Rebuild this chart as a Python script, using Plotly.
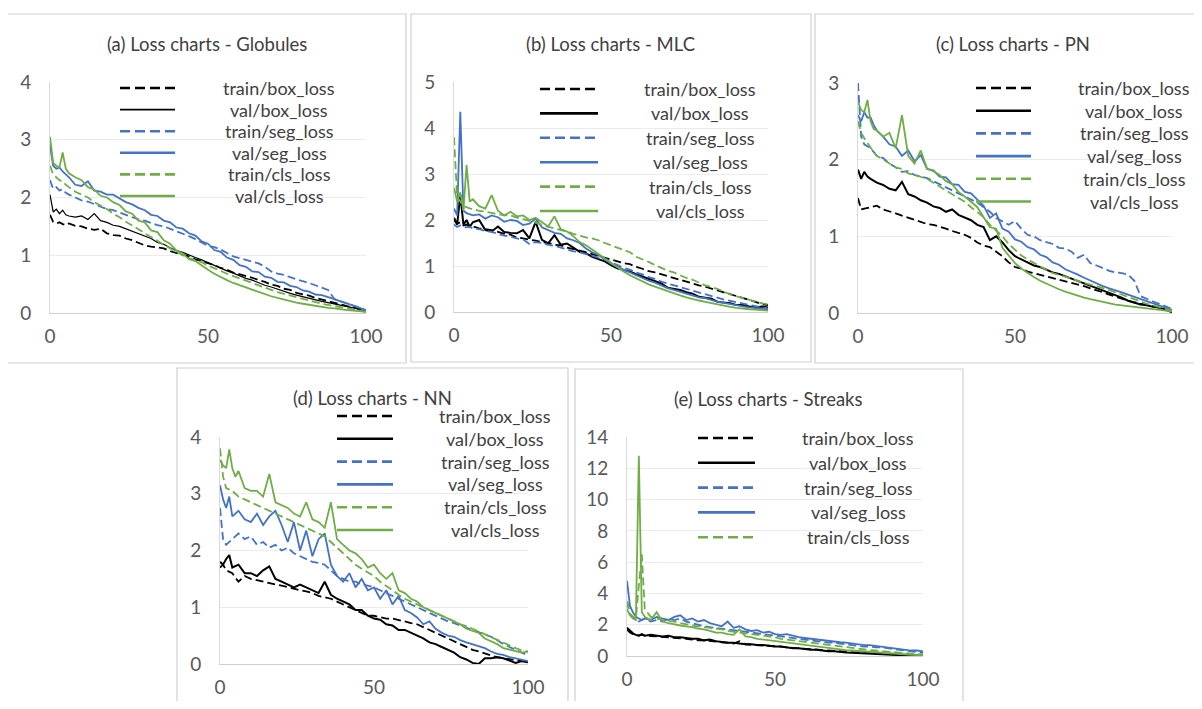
import plotly.graph_objects as go

# the page body keeps its default 8px margin, so the figure is drawn 8px in from the window
W, H = 1186, 693
OFFSET = 8
FONT = "Lato"

# epochs shared by every panel
EPOCHS = [0, 1, 2, 3, 4, 5, 6,
          8, 10, 12, 14, 16, 18, 20, 22, 24, 26,
          28, 30, 32, 34, 36, 38, 40, 42, 44, 46,
          48, 50, 52, 54, 56, 58, 60, 62, 64, 66,
          68, 70, 72, 74, 76, 78, 80, 82, 84, 86,
          88, 90, 92, 94, 96, 98, 100]

SERIES_NAMES = ["train/box_loss", "val/box_loss", "train/seg_loss",
                "val/seg_loss", "train/cls_loss", "val/cls_loss"]

TITLES = ["(a) Loss charts - Globules", "(b) Loss charts - MLC", "(c) Loss charts - PN",
          "(d) Loss charts - NN", "(e) Loss charts - Streaks"]

X_TICKS = [0, 50, 100]
Y_MAX = [4, 5, 3, 4, 14]
Y_STEP = [1, 1, 1, 1, 2]

# (a) Globules
GLOB_TRAIN_BOX = [1.70, 1.58, 1.55, 1.57, 1.54, 1.52, 1.55,
                  1.51, 1.50, 1.46, 1.44, 1.46, 1.38, 1.35, 1.34, 1.29, 1.26,
                  1.22, 1.17, 1.15, 1.13, 1.12, 1.07, 1.04, 1.00, 0.98, 0.93,
                  0.90, 0.86, 0.83, 0.78, 0.75, 0.70, 0.67, 0.65, 0.61, 0.57,
                  0.54, 0.49, 0.47, 0.42, 0.40, 0.35, 0.33, 0.30, 0.26, 0.23,
                  0.20, 0.18, 0.15, 0.12, 0.10, 0.06, 0.03]
GLOB_VAL_BOX = [2.05, 1.75, 1.80, 1.72, 1.78, 1.70, 1.68,
                1.66, 1.68, 1.62, 1.72, 1.60, 1.57, 1.52, 1.50, 1.46, 1.42,
                1.38, 1.33, 1.29, 1.22, 1.19, 1.13, 1.08, 1.05, 1.00, 0.96,
                0.92, 0.87, 0.82, 0.78, 0.73, 0.69, 0.64, 0.60, 0.57, 0.52,
                0.48, 0.45, 0.41, 0.38, 0.34, 0.31, 0.28, 0.26, 0.23, 0.20,
                0.18, 0.16, 0.14, 0.11, 0.09, 0.06, 0.03]
GLOB_TRAIN_SEG = [2.30, 2.15, 2.18, 2.12, 2.14, 2.08, 2.05,
                  2.00, 1.95, 1.93, 1.88, 1.84, 1.80, 1.78, 1.74, 1.70, 1.66,
                  1.62, 1.60, 1.56, 1.52, 1.50, 1.46, 1.42, 1.38, 1.33, 1.28,
                  1.22, 1.16, 1.14, 1.10, 1.04, 0.98, 0.95, 0.92, 0.88, 0.86,
                  0.80, 0.72, 0.68, 0.66, 0.62, 0.58, 0.55, 0.52, 0.48, 0.45,
                  0.40, 0.24, 0.20, 0.16, 0.12, 0.08, 0.05]
GLOB_VAL_SEG = [2.90, 2.55, 2.50, 2.52, 2.45, 2.40, 2.35,
                2.22, 2.20, 2.28, 2.12, 2.10, 2.05, 2.05, 1.98, 1.92, 1.88,
                1.82, 1.78, 1.70, 1.68, 1.60, 1.57, 1.48, 1.46, 1.38, 1.34,
                1.24, 1.20, 1.09, 1.06, 0.96, 0.92, 0.83, 0.80, 0.72, 0.71,
                0.63, 0.61, 0.54, 0.53, 0.47, 0.45, 0.39, 0.37, 0.32, 0.31,
                0.28, 0.24, 0.20, 0.17, 0.13, 0.09, 0.05]
GLOB_TRAIN_CLS = [2.55, 2.40, 2.35, 2.30, 2.28, 2.22, 2.18,
                  2.10, 2.05, 2.00, 1.92, 1.86, 1.80, 1.72, 1.66, 1.58, 1.52,
                  1.45, 1.38, 1.32, 1.25, 1.18, 1.12, 1.05, 1.00, 0.95, 0.92,
                  0.88, 0.82, 0.78, 0.73, 0.68, 0.64, 0.59, 0.55, 0.51, 0.47,
                  0.43, 0.40, 0.36, 0.33, 0.30, 0.27, 0.24, 0.21, 0.18, 0.16,
                  0.14, 0.12, 0.10, 0.08, 0.06, 0.04, 0.02]
GLOB_VAL_CLS = [3.05, 2.60, 2.55, 2.52, 2.78, 2.50, 2.42,
                2.35, 2.30, 2.18, 2.14, 2.03, 2.00, 1.92, 1.87, 1.76, 1.72,
                1.60, 1.57, 1.43, 1.40, 1.26, 1.20, 1.08, 1.03, 0.93, 0.90,
                0.82, 0.75, 0.68, 0.62, 0.57, 0.52, 0.48, 0.44, 0.40, 0.36,
                0.32, 0.29, 0.26, 0.23, 0.20, 0.18, 0.16, 0.14, 0.12, 0.10,
                0.09, 0.08, 0.06, 0.05, 0.04, 0.03, 0.02]

# (b) MLC
MLC_TRAIN_BOX = [2.00, 1.92, 1.95, 1.88, 1.90, 1.85, 1.86,
                 1.82, 1.80, 1.78, 1.74, 1.70, 1.68, 1.62, 1.60, 1.58, 1.55,
                 1.52, 1.50, 1.46, 1.45, 1.40, 1.37, 1.34, 1.30, 1.26, 1.22,
                 1.18, 1.15, 1.10, 1.06, 1.04, 0.98, 0.94, 0.89, 0.86, 0.82,
                 0.77, 0.73, 0.70, 0.66, 0.62, 0.58, 0.55, 0.51, 0.47, 0.43,
                 0.38, 0.34, 0.30, 0.26, 0.22, 0.17, 0.15]
MLC_VAL_BOX = [2.05, 1.90, 2.55, 1.90, 2.00, 1.85, 1.95,
               2.00, 1.78, 1.75, 1.86, 1.74, 1.72, 1.71, 1.78, 1.60, 1.96,
               1.57, 1.49, 1.67, 1.46, 1.49, 1.40, 1.31, 1.28, 1.20, 1.15,
               1.10, 1.02, 0.95, 0.91, 0.88, 0.82, 0.77, 0.72, 0.68, 0.62,
               0.53, 0.50, 0.48, 0.43, 0.40, 0.33, 0.31, 0.29, 0.22, 0.20,
               0.19, 0.15, 0.15, 0.12, 0.10, 0.12, 0.10]
MLC_TRAIN_SEG = [1.90, 1.85, 1.88, 1.86, 1.84, 1.85, 1.82,
                 1.80, 1.76, 1.74, 1.70, 1.66, 1.64, 1.60, 1.58, 1.48, 1.52,
                 1.50, 1.46, 1.44, 1.40, 1.36, 1.32, 1.30, 1.26, 1.22, 1.18,
                 1.14, 1.08, 1.02, 0.96, 0.92, 0.86, 0.82, 0.76, 0.72, 0.66,
                 0.62, 0.58, 0.54, 0.50, 0.46, 0.42, 0.38, 0.34, 0.30, 0.27,
                 0.24, 0.21, 0.18, 0.15, 0.12, 0.10, 0.08]
MLC_VAL_SEG = [2.25, 2.10, 4.35, 2.20, 2.15, 2.12, 2.10,
               2.12, 2.03, 2.10, 2.06, 1.96, 2.00, 1.98, 1.89, 1.92, 2.03,
               1.84, 1.78, 1.72, 1.70, 1.60, 1.56, 1.50, 1.38, 1.30, 1.24,
               1.15, 1.05, 0.98, 0.92, 0.86, 0.80, 0.74, 0.68, 0.64, 0.58,
               0.52, 0.48, 0.44, 0.40, 0.35, 0.32, 0.30, 0.26, 0.22, 0.20,
               0.17, 0.14, 0.12, 0.10, 0.08, 0.07, 0.06]
MLC_TRAIN_CLS = [3.80, 2.50, 2.40, 2.30, 2.28, 2.25, 2.24,
                 2.20, 2.18, 2.15, 2.12, 2.10, 2.10, 2.05, 2.02, 1.98, 1.95,
                 1.90, 1.85, 1.82, 1.78, 1.75, 1.70, 1.66, 1.62, 1.60, 1.56,
                 1.50, 1.45, 1.40, 1.35, 1.30, 1.20, 1.15, 1.09, 1.02, 0.96,
                 0.90, 0.86, 0.80, 0.74, 0.70, 0.64, 0.58, 0.54, 0.50, 0.44,
                 0.38, 0.34, 0.30, 0.26, 0.22, 0.19, 0.17]
MLC_VAL_CLS = [2.70, 2.40, 2.60, 2.20, 3.20, 2.40, 2.45,
               2.30, 2.25, 2.54, 2.20, 2.10, 2.18, 2.08, 2.10, 2.00, 2.05,
               1.95, 1.86, 2.08, 1.80, 1.75, 1.65, 1.52, 1.45, 1.36, 1.26,
               1.16, 1.06, 0.96, 0.88, 0.80, 0.73, 0.66, 0.60, 0.55, 0.50,
               0.45, 0.40, 0.36, 0.32, 0.28, 0.25, 0.22, 0.19, 0.16, 0.13,
               0.11, 0.09, 0.07, 0.06, 0.05, 0.04, 0.03]

# (c) PN
PN_TRAIN_BOX = [1.50, 1.35, 1.36, 1.37, 1.38, 1.39, 1.40,
                1.35, 1.33, 1.30, 1.27, 1.24, 1.22, 1.18, 1.16, 1.15, 1.13,
                1.10, 1.07, 1.05, 1.02, 0.98, 0.92, 0.88, 0.86, 0.80, 0.74,
                0.66, 0.60, 0.58, 0.54, 0.52, 0.50, 0.47, 0.45, 0.43, 0.41,
                0.39, 0.37, 0.35, 0.32, 0.30, 0.27, 0.24, 0.21, 0.19, 0.16,
                0.14, 0.12, 0.10, 0.08, 0.07, 0.05, 0.03]
PN_VAL_BOX = [1.87, 1.75, 1.84, 1.78, 1.75, 1.72, 1.70,
              1.67, 1.62, 1.60, 1.71, 1.55, 1.52, 1.47, 1.44, 1.39, 1.37,
              1.32, 1.35, 1.28, 1.25, 1.21, 1.15, 1.12, 0.95, 1.00, 0.92,
              0.82, 0.74, 0.70, 0.66, 0.62, 0.60, 0.56, 0.53, 0.51, 0.48,
              0.45, 0.41, 0.39, 0.36, 0.33, 0.30, 0.26, 0.23, 0.20, 0.16,
              0.13, 0.11, 0.10, 0.08, 0.07, 0.04, 0.01]
PN_TRAIN_SEG = [3.00, 2.30, 2.20, 2.18, 2.15, 2.10, 2.05,
                2.02, 1.95, 1.90, 1.84, 1.85, 1.80, 1.78, 1.76, 1.72, 1.68,
                1.64, 1.60, 1.56, 1.52, 1.48, 1.44, 1.38, 1.32, 1.24, 1.20,
                1.15, 1.20, 1.10, 1.02, 1.00, 0.95, 0.92, 0.90, 0.85, 0.84,
                0.80, 0.72, 0.76, 0.65, 0.62, 0.58, 0.55, 0.53, 0.52, 0.50,
                0.42, 0.22, 0.18, 0.15, 0.12, 0.08, 0.05]
PN_VAL_SEG = [2.58, 2.50, 2.62, 2.55, 2.55, 2.45, 2.38,
              2.30, 2.20, 2.17, 2.05, 2.12, 1.98, 2.06, 1.88, 1.86, 1.78,
              1.77, 1.68, 1.67, 1.58, 1.56, 1.48, 1.40, 1.24, 1.30, 1.10,
              1.06, 0.96, 0.93, 0.86, 0.83, 0.76, 0.73, 0.66, 0.63, 0.57,
              0.54, 0.50, 0.46, 0.42, 0.39, 0.35, 0.32, 0.30, 0.27, 0.24,
              0.21, 0.18, 0.15, 0.12, 0.10, 0.07, 0.04]
PN_TRAIN_CLS = [2.50, 2.35, 2.28, 2.22, 2.15, 2.10, 2.05,
                2.00, 1.95, 1.90, 1.88, 1.82, 1.80, 1.78, 1.75, 1.70, 1.65,
                1.60, 1.55, 1.50, 1.45, 1.38, 1.32, 1.25, 1.15, 1.08, 1.00,
                0.90, 0.82, 0.75, 0.70, 0.65, 0.60, 0.56, 0.52, 0.50, 0.47,
                0.45, 0.42, 0.40, 0.37, 0.35, 0.33, 0.30, 0.27, 0.24, 0.20,
                0.17, 0.14, 0.12, 0.10, 0.08, 0.05, 0.03]
PN_VAL_CLS = [2.75, 2.65, 2.62, 2.78, 2.50, 2.40, 2.38,
              2.30, 2.35, 2.15, 2.58, 2.05, 1.95, 2.12, 1.88, 1.85, 1.80,
              1.72, 1.68, 1.58, 1.52, 1.45, 1.38, 1.25, 1.12, 1.10, 0.85,
              0.75, 0.65, 0.58, 0.52, 0.47, 0.42, 0.38, 0.34, 0.31, 0.28,
              0.25, 0.22, 0.20, 0.18, 0.16, 0.14, 0.12, 0.11, 0.10, 0.09,
              0.08, 0.07, 0.06, 0.05, 0.04, 0.03, 0.02]

# (d) NN
NN_TRAIN_BOX = [1.70, 1.75, 1.65, 1.62, 1.60, 1.52, 1.45,
                1.55, 1.50, 1.48, 1.45, 1.42, 1.40, 1.38, 1.35, 1.32, 1.30,
                1.28, 1.25, 1.20, 1.18, 1.15, 1.10, 1.05, 1.00, 0.95, 0.90,
                0.85, 0.85, 0.82, 0.80, 0.80, 0.78, 0.75, 0.72, 0.70, 0.65,
                0.60, 0.55, 0.50, 0.45, 0.40, 0.35, 0.30, 0.25, 0.22, 0.18,
                0.15, 0.12, 0.10, 0.08, 0.06, 0.05, 0.05]
NN_VAL_BOX = [1.80, 1.75, 1.85, 1.92, 1.70, 1.72, 1.75,
              1.60, 1.60, 1.55, 1.65, 1.72, 1.50, 1.45, 1.40, 1.35, 1.40,
              1.35, 1.30, 1.25, 1.45, 1.22, 1.15, 1.10, 1.05, 0.95, 0.95,
              0.85, 0.80, 0.78, 0.70, 0.68, 0.60, 0.60, 0.55, 0.50, 0.45,
              0.38, 0.35, 0.30, 0.25, 0.20, 0.12, 0.08, 0.02, 0.00, 0.10,
              0.10, 0.12, 0.10, 0.06, 0.02, 0.05, 0.03]
NN_TRAIN_SEG = [2.75, 2.20, 2.10, 2.15, 2.20, 2.25, 2.30,
                2.20, 2.25, 2.10, 2.15, 2.05, 2.10, 2.00, 2.05, 1.95, 1.90,
                1.85, 1.80, 1.78, 1.75, 1.65, 1.55, 1.50, 1.45, 1.45, 1.40,
                1.38, 1.35, 1.30, 1.25, 1.20, 1.15, 1.10, 1.05, 1.00, 0.95,
                0.90, 0.85, 0.80, 0.75, 0.72, 0.68, 0.65, 0.60, 0.56, 0.52,
                0.48, 0.42, 0.35, 0.30, 0.25, 0.20, 0.15]
NN_VAL_SEG = [3.15, 2.90, 2.75, 2.95, 2.60, 2.65, 2.70,
              2.55, 2.50, 2.65, 2.45, 2.60, 2.70, 2.45, 2.15, 2.50, 2.00,
              2.35, 1.90, 2.20, 2.30, 1.75, 1.55, 1.45, 1.60, 1.35, 1.50,
              1.30, 1.35, 1.15, 1.30, 1.05, 1.20, 0.95, 0.90, 0.82, 0.70,
              0.75, 0.62, 0.55, 0.50, 0.48, 0.42, 0.38, 0.35, 0.32, 0.28,
              0.22, 0.18, 0.16, 0.12, 0.10, 0.08, 0.05]
NN_TRAIN_CLS = [3.80, 3.30, 3.10, 3.08, 3.05, 3.00, 2.95,
                2.90, 2.85, 2.80, 2.75, 2.70, 2.65, 2.60, 2.55, 2.50, 2.45,
                2.40, 2.35, 2.30, 2.25, 2.15, 2.05, 1.95, 1.85, 1.75, 1.68,
                1.62, 1.55, 1.45, 1.38, 1.30, 1.22, 1.15, 1.10, 1.05, 1.00,
                0.95, 0.90, 0.85, 0.80, 0.75, 0.70, 0.67, 0.62, 0.57, 0.52,
                0.47, 0.42, 0.37, 0.32, 0.28, 0.24, 0.22]
NN_VAL_CLS = [3.60, 3.50, 3.45, 3.78, 3.45, 3.30, 3.40,
              3.10, 3.05, 3.05, 2.95, 3.35, 2.85, 2.80, 2.75, 2.65, 2.60,
              2.85, 2.55, 2.50, 2.40, 2.85, 2.20, 2.10, 2.00, 1.95, 1.85,
              1.70, 1.75, 1.60, 1.50, 1.60, 1.30, 1.25, 1.15, 1.10, 1.00,
              0.95, 0.90, 0.85, 0.80, 0.75, 0.70, 0.62, 0.58, 0.55, 0.45,
              0.40, 0.35, 0.28, 0.25, 0.22, 0.20, 0.22]

# (e) Streaks
STR_TRAIN_BOX = [1.70, 1.50, 1.40, 1.35, 1.30, 1.35, 1.30,
                 1.28, 1.25, 1.25, 1.20, 1.15, 1.15, 1.10, 1.05, 1.00, 1.00,
                 0.95, 0.90, 0.88, 0.85, 0.80, 0.95, 0.75, 0.72, 0.70, 0.68,
                 0.65, 0.62, 0.60, 0.55, 0.52, 0.50, 0.45, 0.42, 0.40, 0.38,
                 0.35, 0.32, 0.30, 0.28, 0.25, 0.22, 0.20, 0.18, 0.15, 0.12,
                 0.10, 0.08, 0.06, 0.05, 0.04, 0.03, 0.02]
STR_VAL_BOX = [1.80, 1.60, 1.45, 1.35, 1.30, 1.40, 1.30,
               1.35, 1.30, 1.25, 1.30, 1.20, 1.20, 1.15, 1.10, 1.10, 1.00,
               1.05, 0.95, 0.90, 0.85, 0.85, 0.80, 0.75, 0.75, 0.70, 0.70,
               0.65, 0.60, 0.60, 0.55, 0.50, 0.50, 0.45, 0.40, 0.40, 0.35,
               0.30, 0.30, 0.25, 0.22, 0.20, 0.18, 0.15, 0.12, 0.10, 0.08,
               0.06, 0.05, 0.04, 0.03, 0.02, 0.01, 0.00]
STR_TRAIN_SEG = [3.50, 2.70, 2.50, 2.30, 2.20, 2.30, 2.40,
                 2.20, 2.30, 2.20, 2.40, 2.30, 2.40, 2.20, 2.10, 2.00, 1.90,
                 1.85, 1.80, 1.75, 1.70, 1.65, 1.60, 1.55, 1.50, 1.45, 1.40,
                 1.35, 1.30, 1.25, 1.20, 1.15, 1.10, 1.05, 1.00, 0.95, 0.90,
                 0.85, 0.85, 0.80, 0.75, 0.70, 0.65, 0.60, 0.60, 0.55, 0.55,
                 0.50, 0.45, 0.40, 0.35, 0.30, 0.25, 0.20]
STR_VAL_SEG = [4.80, 3.20, 2.80, 2.50, 2.40, 2.30, 2.40,
               2.30, 2.50, 2.40, 2.30, 2.50, 2.60, 2.30, 2.40, 2.20, 2.30,
               2.10, 2.00, 1.90, 2.20, 1.80, 1.90, 1.70, 1.60, 1.65, 1.50,
               1.55, 1.40, 1.35, 1.40, 1.30, 1.20, 1.15, 1.10, 1.05, 1.00,
               0.95, 0.90, 0.88, 0.85, 0.80, 0.75, 0.70, 0.70, 0.65, 0.60,
               0.55, 0.50, 0.45, 0.40, 0.35, 0.35, 0.30]
STR_TRAIN_CLS = [3.50, 2.70, 2.50, 2.40, 4.50, 6.50, 3.00,
                 2.50, 2.40, 2.30, 2.25, 2.20, 2.10, 2.00, 1.95, 1.90, 1.85,
                 1.80, 1.75, 1.70, 1.60, 1.55, 1.50, 1.45, 1.40, 1.35, 1.30,
                 1.25, 1.20, 1.10, 1.05, 1.00, 0.95, 0.90, 0.85, 0.80, 0.75,
                 0.70, 0.65, 0.60, 0.55, 0.50, 0.45, 0.40, 0.38, 0.35, 0.30,
                 0.28, 0.25, 0.20, 0.18, 0.15, 0.12, 0.10]
STR_VAL_CLS = [3.00, 2.60, 2.40, 2.30, 12.80, 2.80, 2.50,
               2.30, 2.80, 2.20, 2.10, 2.00, 1.95, 1.90, 1.85, 1.75, 1.70,
               1.60, 1.50, 1.50, 1.40, 1.35, 1.70, 1.25, 1.20, 1.10, 1.05,
               1.00, 0.95, 0.90, 0.85, 0.80, 0.75, 0.70, 0.65, 0.60, 0.55,
               0.50, 0.45, 0.42, 0.38, 0.35, 0.32, 0.28, 0.25, 0.22, 0.20,
               0.18, 0.15, 0.12, 0.10, 0.08, 0.06, 0.05]

PANEL_DATA = [
    [GLOB_TRAIN_BOX, GLOB_VAL_BOX, GLOB_TRAIN_SEG, GLOB_VAL_SEG, GLOB_TRAIN_CLS, GLOB_VAL_CLS],
    [MLC_TRAIN_BOX, MLC_VAL_BOX, MLC_TRAIN_SEG, MLC_VAL_SEG, MLC_TRAIN_CLS, MLC_VAL_CLS],
    [PN_TRAIN_BOX, PN_VAL_BOX, PN_TRAIN_SEG, PN_VAL_SEG, PN_TRAIN_CLS, PN_VAL_CLS],
    [NN_TRAIN_BOX, NN_VAL_BOX, NN_TRAIN_SEG, NN_VAL_SEG, NN_TRAIN_CLS, NN_VAL_CLS],
    [STR_TRAIN_BOX, STR_VAL_BOX, STR_TRAIN_SEG, STR_VAL_SEG, STR_TRAIN_CLS, STR_VAL_CLS],
]
LEGEND_COUNT = [6, 6, 6, 6, 5]

# styling ---------------------------------------------------------------
BLACK, BLUE, GREEN = "#000000", "#4472C4", "#70AD47"
LINE_STYLE = [(BLACK, "8px,4px"), (BLACK, "solid"), (BLUE, "8px,4px"),
              (BLUE, "solid"), (GREEN, "8px,4px"), (GREEN, "solid")]

# window-pixel layout of every panel: frame box, plot box, title centre, legend
FRAMES = [(7, 14, 406, 363), (411, 14, 811, 362), (815, 14, 1199, 363),
          (177, 368, 568, 712), (575, 369, 963, 712)]
PLOTS = [(50, 82, 366, 313), (454, 82, 768, 312), (858, 83, 1172, 313),
         (220, 437, 528, 664), (627, 437, 923, 656)]
TITLE_POS = [(207, 44), (610, 44), (1013, 44), (372, 398), (768, 399)]
# sample x0, sample x1, text centre x, first row y, row step
LEGEND_POS = [(120, 175, 279, 88, 21.6), (540, 598, 700, 89, 24.4),
              (976, 1031, 1134, 88, 22.7), (337, 393, 495, 416, 22.8),
              (698, 755, 858, 438, 24.8)]


def px(x):
    return (x - OFFSET) / W


def py(y):
    return 1 - (y - OFFSET) / H


fig = go.Figure()
shapes, annotations = [], []
layout = {}
tick_font = dict(family=FONT, size=19, color="#595959")

for i, series in enumerate(PANEL_DATA):
    n = "" if i == 0 else str(i + 1)
    x0, y0, x1, y1 = PLOTS[i]
    thin = 1.2 if i == 0 else 2
    for k, vals in enumerate(series):
        color, dash = LINE_STYLE[k]
        width = thin if k == 1 else 1.8
        fig.add_trace(go.Scatter(x=EPOCHS, y=vals, mode="lines", name=SERIES_NAMES[k],
                                 line=dict(color=color, dash=dash, width=width),
                                 xaxis="x" + n, yaxis="y" + n, showlegend=False))

    layout["xaxis" + n] = dict(domain=[px(x0), px(x1)], range=[0, 100], anchor="y" + n,
                               tickvals=X_TICKS, showgrid=False, zeroline=False,
                               showline=True, linecolor="#d0d0d0", linewidth=1,
                               ticks="", ticklabelstandoff=6, automargin=False,
                               tickfont=tick_font)
    layout["yaxis" + n] = dict(domain=[py(y1), py(y0)], range=[0, Y_MAX[i]], anchor="x" + n,
                               dtick=Y_STEP[i], showgrid=True, gridcolor="#ececec",
                               gridwidth=1, zeroline=False, showline=True,
                               linecolor="#d9d9d9", linewidth=1, ticks="",
                               ticklabelstandoff=14, automargin=False,
                               tickfont=tick_font)

    fx0, fy0, fx1, fy1 = FRAMES[i]
    shapes.append(dict(type="rect", xref="paper", yref="paper",
                       x0=px(fx0), x1=px(fx1), y0=py(fy1), y1=py(fy0),
                       line=dict(color="#d0d0d0", width=1.2), layer="below"))

    tx, ty = TITLE_POS[i]
    annotations.append(dict(text=TITLES[i], x=px(tx), y=py(ty), xref="paper", yref="paper",
                            showarrow=False, xanchor="center", yanchor="middle",
                            font=dict(family=FONT, size=18.5, color="#404040")))

    lx0, lx1, tcx, ly, step = LEGEND_POS[i]
    for k in range(LEGEND_COUNT[i]):
        color, dash = LINE_STYLE[k]
        yy = ly + k * step
        lw = thin + 0.6 if k == 1 else 2.6
        shapes.append(dict(type="line", xref="paper", yref="paper",
                           x0=px(lx0), x1=px(lx1), y0=py(yy), y1=py(yy),
                           line=dict(color=color, width=lw,
                                     dash="10px,5px" if dash != "solid" else "solid")))
        annotations.append(dict(text=SERIES_NAMES[k], x=px(tcx), y=py(yy),
                                xref="paper", yref="paper", showarrow=False,
                                xanchor="center", yanchor="middle",
                                font=dict(family=FONT, size=18, color="#404040")))

fig.update_layout(width=W, height=H, margin=dict(l=0, r=0, t=0, b=0, autoexpand=False),
                  paper_bgcolor="white", plot_bgcolor="white",
                  shapes=shapes, annotations=annotations, **layout)

fig.write_html("out.html")
